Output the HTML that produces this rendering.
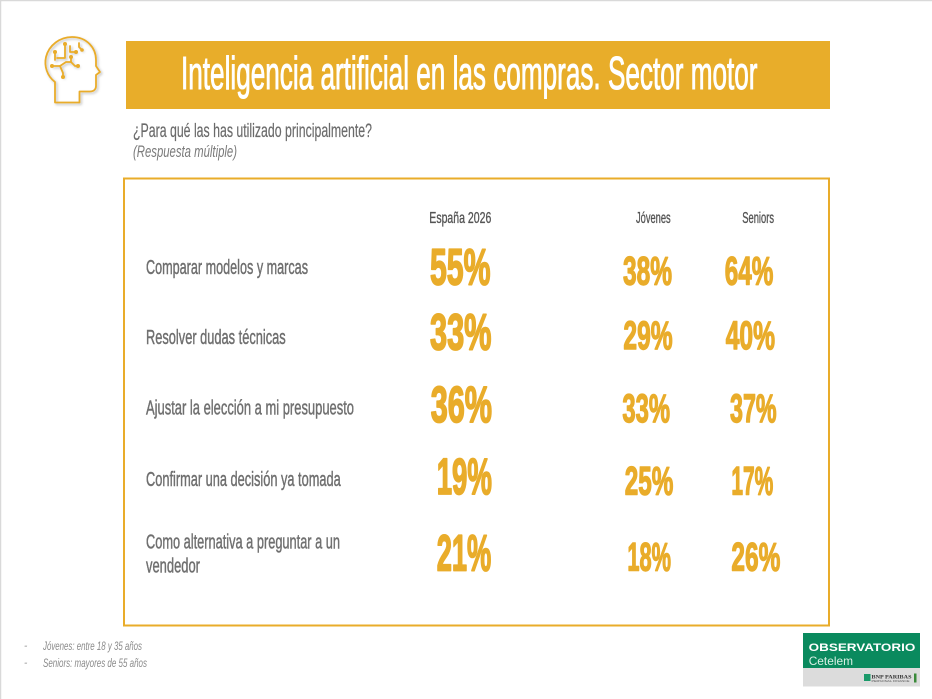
<!DOCTYPE html>
<html>
<head>
<meta charset="utf-8">
<style>
  html,body{margin:0;padding:0;background:#fff;}
  svg{display:block;}
  text{font-family:"Liberation Sans Narrow","Liberation Sans",sans-serif;}
</style>
</head>
<body>
<svg width="932" height="699" viewBox="0 0 932 699" xmlns="http://www.w3.org/2000/svg">
  <defs>
    <filter id="sh" x="-30%" y="-30%" width="160%" height="160%">
      <feDropShadow dx="1.5" dy="1.5" stdDeviation="1.2" flood-color="#000" flood-opacity="0.25"/>
    </filter>
  </defs>
  <rect x="0" y="0" width="932" height="699" fill="#fff"/>
  <!-- page edge lines -->
  <line x1="0" y1="0.5" x2="932" y2="0.5" stroke="#d9d9d9" stroke-width="1.5"/>
  <line x1="0.5" y1="0" x2="0.5" y2="699" stroke="#d9d9d9" stroke-width="1.5"/>

  <!-- head icon -->
  <g fill="none" stroke="#E9AC2A" stroke-width="1.8" stroke-linejoin="round" stroke-linecap="round" filter="url(#sh)">
    <path d="M55,102.5 L55,82 C47,76 44,66 46,57 C49,45 60,37 72,37 C87,37 96,48 96,60 L96,66 L100,72 L96,75 L96,86 C96,89 94,91.5 90,91.5 L79.5,91.5 L79.5,102.5 Z"/>
    <path d="M65,44 L65,58 L57,58"/>
    <path d="M55,53 L55,60"/>
    <path d="M52,66 L60,66 L63,73 L63,77"/>
    <path d="M70,46 L70,52 L76,52"/>
    <path d="M71,62 L75,66 L78,66"/>
    <path d="M60,66 L66,62 L71,62 L71,57"/>
    <path d="M79,43 L79,47 L82,50"/>
  </g>
  <g fill="#E9AC2A">
    <circle cx="65" cy="44" r="2"/>
    <circle cx="55" cy="52" r="2"/>
    <circle cx="52" cy="66" r="2"/>
    <circle cx="63" cy="77" r="2"/>
    <circle cx="76" cy="52" r="2"/>
    <circle cx="78" cy="66" r="2"/>
    <circle cx="71" cy="57" r="2"/>
    <circle cx="82" cy="50" r="1.8"/>
  </g>

  <!-- title bar -->
  <rect x="126" y="41" width="704" height="68" fill="#E8AD2A"/>
  <text x="181" y="89" font-size="46" fill="#ffffff" stroke="#ffffff" stroke-width="1" textLength="576.5" lengthAdjust="spacingAndGlyphs">Inteligencia artificial en las compras. Sector motor</text>

  <!-- subtitle -->
  <text x="133" y="137" font-size="19" fill="#6b6b6b" stroke="#6b6b6b" stroke-width="0.2" textLength="239" lengthAdjust="spacingAndGlyphs">¿Para qué las has utilizado principalmente?</text>
  <text x="133" y="157" font-size="17" font-style="italic" fill="#7a7a7a" textLength="104" lengthAdjust="spacingAndGlyphs">(Respuesta múltiple)</text>

  <!-- box -->
  <rect x="124" y="178.5" width="705" height="447" fill="none" stroke="#E9AC2A" stroke-width="2"/>

  <!-- column headers -->
  <g font-size="16" fill="#555555" stroke="#555555" stroke-width="0.35">
    <text x="429.3" y="223" textLength="62" lengthAdjust="spacingAndGlyphs">España 2026</text>
    <text x="636" y="223" textLength="34.7" lengthAdjust="spacingAndGlyphs">Jóvenes</text>
    <text x="742.3" y="223" textLength="31.7" lengthAdjust="spacingAndGlyphs">Seniors</text>
  </g>

  <!-- row labels -->
  <g font-size="20" fill="#6f6f6f" stroke="#6f6f6f" stroke-width="0.45">
    <text x="146" y="274" textLength="162" lengthAdjust="spacingAndGlyphs">Comparar modelos y marcas</text>
    <text x="146" y="344" textLength="139.7" lengthAdjust="spacingAndGlyphs">Resolver dudas técnicas</text>
    <text x="146" y="414.3" textLength="208" lengthAdjust="spacingAndGlyphs">Ajustar la elección a mi presupuesto</text>
    <text x="146" y="486" textLength="194.7" lengthAdjust="spacingAndGlyphs">Confirmar una decisión ya tomada</text>
    <text x="146" y="548.3" textLength="194" lengthAdjust="spacingAndGlyphs">Como alternativa a preguntar a un</text>
    <text x="146" y="572.7" textLength="54" lengthAdjust="spacingAndGlyphs">vendedor</text>
  </g>

  <!-- España 2026 values -->
  <g font-size="51" font-weight="bold" fill="#E9AC2A" stroke="#E9AC2A" stroke-width="1.8" stroke-linejoin="round">
    <text x="430" y="284.5" textLength="60.5" lengthAdjust="spacingAndGlyphs">55%</text>
    <text x="430" y="349.5" textLength="61.5" lengthAdjust="spacingAndGlyphs">33%</text>
    <text x="430.7" y="422" textLength="61.3" lengthAdjust="spacingAndGlyphs">36%</text>
    <text x="436.7" y="493.8" textLength="55.3" lengthAdjust="spacingAndGlyphs">19%</text>
    <text x="436.7" y="570.5" textLength="54.6" lengthAdjust="spacingAndGlyphs">21%</text>
  </g>

  <!-- Jóvenes / Seniors values -->
  <g font-size="40" font-weight="bold" fill="#E9AC2A" stroke="#E9AC2A" stroke-width="1.4" stroke-linejoin="round">
    <text x="623" y="284.5" textLength="49" lengthAdjust="spacingAndGlyphs">38%</text>
    <text x="724.7" y="284.5" textLength="48.6" lengthAdjust="spacingAndGlyphs">64%</text>
    <text x="623.4" y="348.8" textLength="49.2" lengthAdjust="spacingAndGlyphs">29%</text>
    <text x="725.7" y="348.8" textLength="49.3" lengthAdjust="spacingAndGlyphs">40%</text>
    <text x="622.4" y="421.8" textLength="47.6" lengthAdjust="spacingAndGlyphs">33%</text>
    <text x="730" y="421.8" textLength="46.6" lengthAdjust="spacingAndGlyphs">37%</text>
    <text x="624.7" y="494.5" textLength="48.6" lengthAdjust="spacingAndGlyphs">25%</text>
    <text x="731.4" y="494.5" textLength="41.9" lengthAdjust="spacingAndGlyphs">17%</text>
    <text x="627.4" y="570.5" textLength="43.6" lengthAdjust="spacingAndGlyphs">18%</text>
    <text x="731.4" y="570.5" textLength="48.9" lengthAdjust="spacingAndGlyphs">26%</text>
  </g>

  <!-- footnotes -->
  <g font-size="12" font-style="italic" fill="#8a8a8a">
    <text x="24" y="649" font-size="10">-</text>
    <text x="43" y="650" textLength="99" lengthAdjust="spacingAndGlyphs">Jóvenes: entre 18 y 35 años</text>
    <text x="24" y="666" font-size="10">-</text>
    <text x="43" y="667" textLength="104" lengthAdjust="spacingAndGlyphs">Seniors: mayores de 55 años</text>
  </g>

  <!-- logo -->
  <rect x="803" y="633" width="117" height="35" fill="#0a8a5e"/>
  <rect x="803" y="668" width="117" height="18.5" fill="#dcdcdc"/>
  <text x="808.7" y="651" font-size="11" font-weight="bold" fill="#ffffff" textLength="106.6" lengthAdjust="spacingAndGlyphs" style="font-family:'Liberation Sans',sans-serif">OBSERVATORIO</text>
  <text x="808.7" y="665" font-size="12" fill="#d8efe4" textLength="44.3" lengthAdjust="spacingAndGlyphs" style="font-family:'Liberation Sans',sans-serif">Cetelem</text>
  <rect x="864" y="674" width="6.5" height="7" fill="#1a9a6a"/>
  <text x="871.5" y="678.5" font-size="5.5" font-weight="bold" fill="#333" textLength="40" lengthAdjust="spacingAndGlyphs" style="font-family:'Liberation Serif',serif">BNP PARIBAS</text>
  <text x="871.5" y="682" font-size="2.8" fill="#555" textLength="38" lengthAdjust="spacingAndGlyphs">PERSONAL FINANCE</text>
  <rect x="914" y="673.5" width="2.5" height="9" fill="#3a8a3a"/>
</svg>
</body>
</html>
